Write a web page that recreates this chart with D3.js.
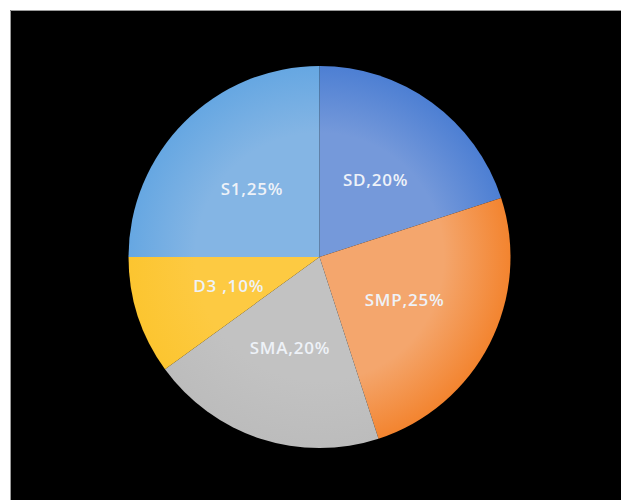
<!DOCTYPE html>
<html>
<head>
<meta charset="utf-8">
<script src="https://cdn.jsdelivr.net/npm/d3@7"></script>
<style>
body { margin: 0; background: #fff; }
</style>
</head>
<body>
<div id="chart"></div>
<script>
// pie data, clockwise from 12 o'clock
var categories = ["SD", "SMP", "SMA", "D3", "S1"];
var values = [20, 25, 20, 10, 25];
var labels = ["SD,20%", "SMP,25%", "SMA,20%", "D3 ,10%", "S1,25%"];
var colors = [["#7599da", "#4d7fd3"], ["#f4a66d", "#f3842f"], ["#c2c2c2", "#bcbcbc"], ["#fdca42", "#fcc530"], ["#84b5e4", "#66a7e2"]];

var width = 621, height = 500,
    cx = 319.5, cy = 257, radius = 191;

var svg = d3.select("#chart").append("svg")
  .attr("width", width)
  .attr("height", height);

// black panel with a thin grey edge
svg.append("rect")
  .attr("x", 10).attr("y", 10)
  .attr("width", width - 10).attr("height", height - 10)
  .attr("fill", "#000");
svg.append("path")
  .attr("d", "M10.5," + height + "V10.5H" + width)
  .attr("fill", "none")
  .attr("stroke", "#9a9a9a")
  .attr("stroke-width", 1);

var defs = svg.append("defs");
colors.forEach(function(c, i) {
  var g = defs.append("radialGradient")
    .attr("id", "grad" + i)
    .attr("gradientUnits", "userSpaceOnUse")
    .attr("cx", 0).attr("cy", 0).attr("r", radius);
  g.append("stop").attr("offset", "0%").attr("stop-color", c[0]);
  g.append("stop").attr("offset", "65%").attr("stop-color", c[0]);
  g.append("stop").attr("offset", "100%").attr("stop-color", c[1]);
});

var pie = d3.pie().sort(null).value(function(d) { return d; });
var arc = d3.arc().innerRadius(0).outerRadius(radius);

var g = svg.append("g")
  .attr("transform", "translate(" + cx + "," + cy + ")");

var arcs = pie(values);

g.selectAll(".slice")
  .data(arcs)
  .enter()
  .append("path")
  .attr("class", "slice")
  .attr("d", arc)
  .attr("fill", function(d, i) { return "url(#grad" + i + ")"; });

g.selectAll(".label")
  .data(arcs)
  .enter()
  .append("text")
  .attr("class", "label")
  .attr("transform", function(d) { return "translate(" + arc.centroid(d) + ")"; })
  .attr("text-anchor", "middle")
  .attr("dy", "0.35em")
  .style("font-family", "'Open Sans', sans-serif")
  .style("font-size", "17px")
  .style("font-weight", 600)
  .style("letter-spacing", "0.8px")
  .style("fill", "#eef2f8")
  .text(function(d, i) { return labels[i]; });
</script>
</body>
</html>
